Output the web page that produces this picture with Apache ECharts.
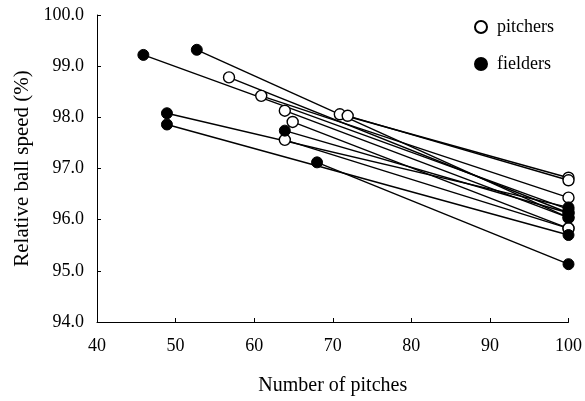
<!DOCTYPE html>
<html>
<head>
<meta charset="utf-8">
<script src="https://cdn.jsdelivr.net/npm/echarts@6/dist/echarts.min.js"></script>
<style>html,body{margin:0;padding:0;background:#fff}#c{width:585px;height:401px}</style>
</head>
<body>
<div id="c"></div>
<script>
// Pitchers: start (pitches, speed) -> end at 100 pitches
var pitcherStartX = [56.8, 60.9, 63.9, 64.9, 63.9, 70.9, 71.9];
var pitcherStartY = [98.78, 98.42, 98.13, 97.91, 97.56, 98.06, 98.03];
var pitcherEndX   = [100, 100, 100, 100, 100, 100, 100];
var pitcherEndY   = [96.13, 96.43, 96.04, 95.83, 95.83, 96.82, 96.77];
// Fielders
var fielderStartX = [45.9, 52.7, 48.9, 48.9, 63.9, 68.0];
var fielderStartY = [99.22, 99.32, 98.08, 97.86, 97.74, 97.12];
var fielderEndX   = [100, 100, 100, 100, 100, 100];
var fielderEndY   = [96.20, 96.04, 96.24, 95.70, 96.13, 95.13];

var font = 'Liberation Serif';
var series = [];
function addLines(sx, sy, ex, ey) {
  for (var i = 0; i < sx.length; i++) {
    series.push({
      type: 'line', silent: true, symbol: 'none',
      data: [[sx[i], sy[i]], [ex[i], ey[i]]],
      lineStyle: {color: '#000', width: 1.4, opacity: 1},
      z: 1
    });
  }
}
addLines(pitcherStartX, pitcherStartY, pitcherEndX, pitcherEndY);
addLines(fielderStartX, fielderStartY, fielderEndX, fielderEndY);

function pts(sx, sy, ex, ey) {
  var d = [];
  for (var i = 0; i < sx.length; i++) { d.push([sx[i], sy[i]]); d.push([ex[i], ey[i]]); }
  return d;
}
series.push({
  name: 'pitchers', type: 'scatter', symbol: 'circle', symbolSize: 11,
  data: pts(pitcherStartX, pitcherStartY, pitcherEndX, pitcherEndY),
  itemStyle: {color: '#fff', borderColor: '#000', borderWidth: 1.4, opacity: 1},
  z: 3
});
series.push({
  name: 'fielders', type: 'scatter', symbol: 'circle', symbolSize: 11,
  data: pts(fielderStartX, fielderStartY, fielderEndX, fielderEndY),
  itemStyle: {color: '#000', borderColor: '#000', borderWidth: 1, opacity: 1},
  z: 4
});

var chart = echarts.init(document.getElementById('c'), null, {renderer: 'canvas'});
chart.setOption({
  animation: false,
  backgroundColor: '#fff',
  grid: {left: 97, right: 15, top: 15, bottom: 77},
  legend: {
    data: ['pitchers', 'fielders'],
    orient: 'vertical', left: 469, top: 13,
    itemWidth: 12, itemHeight: 12, itemGap: 19,
    icon: 'circle',
    textStyle: {fontFamily: font, fontSize: 18, color: '#000', padding: [0, 0, 0, 5]}
  },
  xAxis: {
    type: 'value', min: 40, max: 100, interval: 10,
    name: 'Number of pitches', nameLocation: 'middle', nameGap: 54,
    nameTextStyle: {fontFamily: font, fontSize: 20, color: '#000'},
    axisLine: {show: true, lineStyle: {color: '#000', width: 1}},
    axisTick: {show: true, inside: true, length: 4, lineStyle: {color: '#000'}},
    axisLabel: {fontFamily: font, fontSize: 18, color: '#000', margin: 15},
    splitLine: {show: false}
  },
  yAxis: {
    type: 'value', min: 94, max: 100, interval: 1,
    name: 'Relative ball speed (%)', nameLocation: 'middle', nameGap: 64,
    nameTextStyle: {fontFamily: font, fontSize: 21, color: '#000'},
    axisLine: {show: true, lineStyle: {color: '#000', width: 1}},
    axisTick: {show: true, inside: true, length: 4, lineStyle: {color: '#000'}},
    axisLabel: {fontFamily: font, fontSize: 18, color: '#000', margin: 13,
      formatter: function (v) { return v.toFixed(1); }},
    splitLine: {show: false}
  },
  series: series
});
</script>
</body>
</html>
